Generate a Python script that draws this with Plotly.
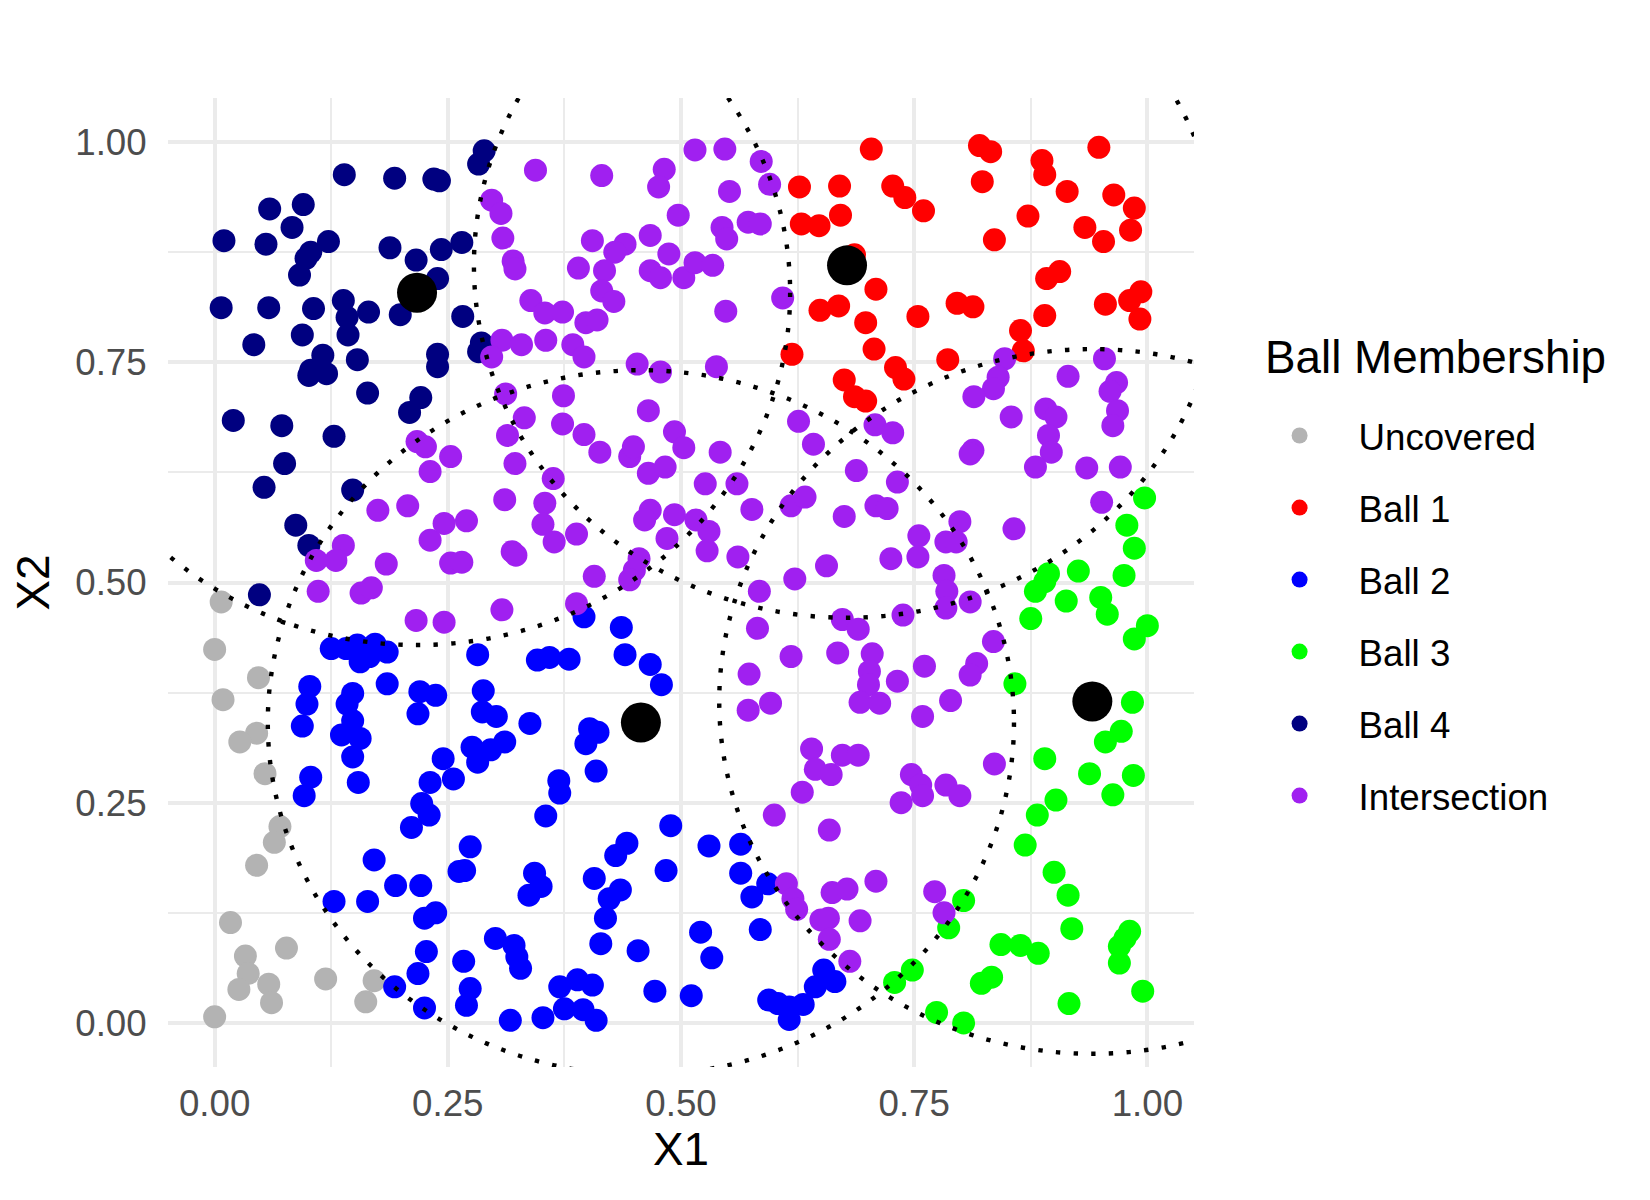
#!/bin/python3

import plotly.graph_objects as go

# Ball centres and shared radius
center_x = [0.678, 0.457, 0.941, 0.217]
center_y = [0.860, 0.341, 0.365, 0.829]
radius = 0.4

# Points by membership, (X1, X2)
uncovered = [
    (0.007, 0.478), (0.000, 0.424), (0.009, 0.367), (0.047, 0.392), (0.045, 0.329),
    (0.027, 0.319), (0.054, 0.283), (0.070, 0.223), (0.064, 0.205), (0.045, 0.179),
    (0.017, 0.114), (0.033, 0.076), (0.036, 0.056), (0.026, 0.038), (0.058, 0.044),
    (0.061, 0.023), (0.077, 0.085), (0.119, 0.050), (0.162, 0.024), (0.171, 0.048),
    (0.000, 0.007),
]

ball_1 = [
    (0.704, 0.992), (0.820, 0.996), (0.832, 0.989), (0.948, 0.994), (0.627, 0.949),
    (0.670, 0.950), (0.727, 0.950), (0.740, 0.937), (0.760, 0.922), (0.823, 0.955),
    (0.887, 0.979), (0.890, 0.963), (0.914, 0.944), (0.964, 0.940), (0.872, 0.916),
    (0.933, 0.903), (0.953, 0.887), (0.986, 0.925), (0.982, 0.900), (0.629, 0.907),
    (0.648, 0.905), (0.671, 0.917), (0.836, 0.889), (0.686, 0.872), (0.709, 0.833),
    (0.649, 0.809), (0.669, 0.814), (0.698, 0.795), (0.707, 0.765), (0.754, 0.802),
    (0.730, 0.744), (0.739, 0.731), (0.675, 0.730), (0.686, 0.711), (0.698, 0.706),
    (0.619, 0.759), (0.796, 0.817), (0.813, 0.813), (0.892, 0.845), (0.906, 0.853),
    (0.890, 0.803), (0.955, 0.816), (0.981, 0.820), (0.993, 0.830), (0.992, 0.799),
    (0.864, 0.786), (0.867, 0.763), (0.786, 0.753),
]

ball_2 = [
    (0.125, 0.425), (0.141, 0.425), (0.153, 0.429), (0.172, 0.430), (0.185, 0.421),
    (0.156, 0.410), (0.166, 0.416), (0.185, 0.385), (0.220, 0.376), (0.218, 0.351),
    (0.102, 0.382), (0.099, 0.362), (0.094, 0.337), (0.148, 0.374), (0.142, 0.362),
    (0.148, 0.343), (0.136, 0.327), (0.156, 0.323), (0.148, 0.302), (0.154, 0.273),
    (0.103, 0.279), (0.096, 0.258), (0.222, 0.249), (0.211, 0.222), (0.171, 0.185),
    (0.194, 0.156), (0.221, 0.156), (0.128, 0.138), (0.164, 0.138), (0.225, 0.119),
    (0.227, 0.081), (0.218, 0.056), (0.193, 0.041), (0.225, 0.017), (0.276, 0.313),
    (0.296, 0.310), (0.311, 0.319), (0.282, 0.296), (0.245, 0.300), (0.256, 0.277),
    (0.231, 0.273), (0.230, 0.236), (0.369, 0.275), (0.370, 0.261), (0.409, 0.286),
    (0.398, 0.317), (0.402, 0.334), (0.411, 0.330), (0.355, 0.235), (0.274, 0.200),
    (0.262, 0.172), (0.268, 0.173), (0.343, 0.170), (0.350, 0.155), (0.337, 0.145),
    (0.407, 0.164), (0.430, 0.190), (0.442, 0.204), (0.435, 0.151), (0.423, 0.141),
    (0.419, 0.119), (0.489, 0.224), (0.484, 0.173), (0.237, 0.125), (0.301, 0.096),
    (0.321, 0.088), (0.324, 0.075), (0.328, 0.062), (0.267, 0.070), (0.274, 0.039),
    (0.270, 0.020), (0.317, 0.003), (0.352, 0.006), (0.370, 0.041), (0.389, 0.049),
    (0.405, 0.043), (0.375, 0.016), (0.395, 0.015), (0.409, 0.003), (0.414, 0.090),
    (0.454, 0.082), (0.472, 0.036), (0.396, 0.461), (0.436, 0.449), (0.440, 0.418),
    (0.467, 0.407), (0.479, 0.384), (0.282, 0.418), (0.346, 0.412), (0.359, 0.415),
    (0.380, 0.413), (0.237, 0.372), (0.288, 0.377), (0.287, 0.353), (0.302, 0.348),
    (0.338, 0.340), (0.530, 0.201), (0.564, 0.203), (0.564, 0.170), (0.593, 0.158),
    (0.576, 0.143), (0.521, 0.103), (0.533, 0.074), (0.585, 0.106), (0.511, 0.031),
    (0.653, 0.060), (0.665, 0.047), (0.644, 0.041), (0.594, 0.026), (0.604, 0.022),
    (0.616, 0.018), (0.616, 0.004), (0.631, 0.021),
]

ball_3 = [
    (0.997, 0.596), (0.978, 0.565), (0.986, 0.539), (0.975, 0.508), (0.926, 0.513),
    (0.894, 0.510), (0.890, 0.501), (0.880, 0.490), (0.913, 0.479), (0.950, 0.483),
    (0.957, 0.464), (0.875, 0.459), (1.000, 0.451), (0.986, 0.436), (0.858, 0.385),
    (0.984, 0.364), (0.972, 0.331), (0.955, 0.319), (0.890, 0.300), (0.938, 0.283),
    (0.985, 0.281), (0.963, 0.259), (0.902, 0.253), (0.882, 0.236), (0.869, 0.202),
    (0.900, 0.171), (0.915, 0.145), (0.803, 0.139), (0.787, 0.108), (0.919, 0.107),
    (0.843, 0.089), (0.864, 0.088), (0.883, 0.079), (0.981, 0.104), (0.976, 0.096),
    (0.970, 0.087), (0.970, 0.068), (0.822, 0.045), (0.833, 0.052), (0.995, 0.036),
    (0.916, 0.022), (0.774, 0.012), (0.803, 0.000), (0.729, 0.046), (0.748, 0.060),
]

ball_4 = [
    (0.139, 0.963), (0.193, 0.959), (0.235, 0.958), (0.241, 0.956), (0.059, 0.924),
    (0.095, 0.929), (0.083, 0.903), (0.010, 0.888), (0.055, 0.884), (0.122, 0.887),
    (0.103, 0.875), (0.098, 0.868), (0.091, 0.849), (0.188, 0.880), (0.216, 0.866),
    (0.007, 0.812), (0.058, 0.812), (0.106, 0.811), (0.138, 0.820), (0.142, 0.801),
    (0.165, 0.807), (0.199, 0.804), (0.143, 0.781), (0.094, 0.781), (0.042, 0.770),
    (0.116, 0.758), (0.103, 0.741), (0.101, 0.735), (0.120, 0.737), (0.153, 0.753),
    (0.164, 0.715), (0.221, 0.710), (0.209, 0.693), (0.020, 0.684), (0.072, 0.678),
    (0.289, 0.990), (0.283, 0.975), (0.265, 0.886), (0.243, 0.878), (0.239, 0.845),
    (0.266, 0.802), (0.286, 0.772), (0.283, 0.762), (0.239, 0.759), (0.239, 0.745),
    (0.128, 0.666), (0.075, 0.635), (0.053, 0.608), (0.148, 0.605), (0.087, 0.565),
    (0.101, 0.542), (0.048, 0.486),
]

intersection = [
    # upper middle
    (0.344, 0.968), (0.415, 0.962), (0.482, 0.969), (0.476, 0.949), (0.497, 0.917),
    (0.297, 0.934), (0.307, 0.919), (0.309, 0.891), (0.320, 0.865), (0.322, 0.856),
    (0.405, 0.888), (0.440, 0.884), (0.429, 0.875), (0.467, 0.894), (0.487, 0.873),
    (0.390, 0.857), (0.418, 0.854), (0.467, 0.854), (0.478, 0.846), (0.503, 0.846),
    (0.415, 0.831), (0.428, 0.819), (0.339, 0.820), (0.354, 0.806), (0.373, 0.807),
    (0.398, 0.795), (0.410, 0.798), (0.308, 0.775), (0.297, 0.756), (0.329, 0.770),
    (0.355, 0.775), (0.384, 0.770), (0.396, 0.756), (0.453, 0.748), (0.478, 0.739),
    (0.312, 0.714), (0.374, 0.712), (0.332, 0.687), (0.465, 0.695), (0.373, 0.680),
    (0.515, 0.991), (0.547, 0.992), (0.586, 0.978), (0.595, 0.952), (0.552, 0.944),
    (0.544, 0.903), (0.549, 0.890), (0.572, 0.909), (0.585, 0.907), (0.515, 0.863),
    (0.534, 0.860), (0.609, 0.823), (0.548, 0.808), (0.538, 0.745),
    # upper right
    (0.847, 0.754), (0.840, 0.733), (0.835, 0.720), (0.814, 0.711), (0.854, 0.688),
    (0.915, 0.734), (0.954, 0.754), (0.967, 0.727), (0.960, 0.717), (0.968, 0.695),
    (0.891, 0.697), (0.902, 0.688), (0.963, 0.678),
    # centre
    (0.626, 0.683), (0.708, 0.679), (0.727, 0.670), (0.493, 0.671), (0.503, 0.653),
    (0.542, 0.648), (0.642, 0.657), (0.688, 0.627), (0.526, 0.612), (0.560, 0.612),
    (0.576, 0.583), (0.618, 0.587), (0.633, 0.597), (0.675, 0.575), (0.709, 0.587),
    (0.721, 0.584), (0.732, 0.614), (0.493, 0.577), (0.516, 0.571), (0.530, 0.558),
    (0.528, 0.536), (0.561, 0.529), (0.755, 0.553), (0.754, 0.529), (0.725, 0.527),
    (0.656, 0.519), (0.622, 0.504), (0.584, 0.490), (0.582, 0.448), (0.673, 0.458),
    (0.690, 0.447), (0.738, 0.463), (0.618, 0.416), (0.668, 0.420), (0.705, 0.419),
    (0.702, 0.399), (0.701, 0.384), (0.732, 0.388), (0.761, 0.405), (0.573, 0.396),
    (0.572, 0.355), (0.596, 0.363), (0.692, 0.364), (0.713, 0.363), (0.759, 0.348),
    # lower centre
    (0.640, 0.311), (0.673, 0.304), (0.690, 0.304), (0.644, 0.288), (0.661, 0.282),
    (0.630, 0.262), (0.600, 0.236), (0.659, 0.219), (0.747, 0.282), (0.757, 0.270),
    (0.759, 0.258), (0.736, 0.250), (0.613, 0.158), (0.620, 0.141), (0.624, 0.129),
    (0.662, 0.148), (0.678, 0.152), (0.709, 0.161), (0.650, 0.117), (0.658, 0.119),
    (0.659, 0.095), (0.692, 0.116), (0.681, 0.070), (0.772, 0.149), (0.782, 0.125),
    (0.836, 0.294), (0.784, 0.270), (0.799, 0.258),
    # right middle
    (0.894, 0.667), (0.897, 0.648), (0.880, 0.631), (0.813, 0.650), (0.810, 0.646),
    (0.935, 0.630), (0.971, 0.631), (0.951, 0.591), (0.857, 0.561), (0.799, 0.569),
    (0.784, 0.546), (0.795, 0.546), (0.782, 0.508), (0.785, 0.490), (0.784, 0.471),
    (0.810, 0.478), (0.835, 0.433), (0.817, 0.408), (0.810, 0.395), (0.789, 0.366),
    # left middle
    (0.217, 0.660), (0.226, 0.654), (0.231, 0.626), (0.175, 0.582), (0.207, 0.587),
    (0.231, 0.548), (0.138, 0.542), (0.130, 0.525), (0.109, 0.525), (0.184, 0.521),
    (0.111, 0.490), (0.157, 0.488), (0.168, 0.494), (0.216, 0.457),
    (0.253, 0.643), (0.314, 0.667), (0.396, 0.668), (0.413, 0.648), (0.445, 0.643),
    (0.449, 0.654), (0.465, 0.624), (0.483, 0.631), (0.322, 0.635), (0.363, 0.618),
    (0.311, 0.594), (0.354, 0.590), (0.352, 0.566), (0.364, 0.546), (0.388, 0.555),
    (0.246, 0.567), (0.270, 0.570), (0.253, 0.522), (0.265, 0.523), (0.319, 0.535),
    (0.323, 0.531), (0.467, 0.582), (0.461, 0.571), (0.485, 0.550), (0.455, 0.527),
    (0.450, 0.514), (0.445, 0.503), (0.407, 0.507), (0.388, 0.476), (0.308, 0.469),
    (0.246, 0.455),
]

group_names = ['Uncovered', 'Ball 1', 'Ball 2', 'Ball 3', 'Ball 4', 'Intersection']
group_points = [uncovered, ball_1, ball_2, ball_3, ball_4, intersection]
group_colors = ['#B3B3B3', '#FF0000', '#0000FF', '#00FF00', '#000080', '#A020F0']

FONT = 'Liberation Sans, Arial, Helvetica, sans-serif'

fig = go.Figure()

# points, one trace per membership group
for name, pts, col in zip(group_names, group_points, group_colors):
    fig.add_trace(go.Scatter(
        x=[p[0] for p in pts],
        y=[p[1] for p in pts],
        mode='markers',
        name=name,
        legendgroup=name,
        marker=dict(color=col, size=23),
    ))

# ball centres
fig.add_trace(go.Scatter(
    x=center_x, y=center_y,
    mode='markers',
    showlegend=False,
    marker=dict(color='black', size=40),
))

# dotted ball boundaries
for cx, cy in zip(center_x, center_y):
    fig.add_shape(
        type='circle', xref='x', yref='y',
        x0=cx - radius, x1=cx + radius, y0=cy - radius, y1=cy + radius,
        line=dict(color='black', width=4.4, dash='4.4px,13.3px'),
        layer='above',
    )

axis_common = dict(
    range=[-0.05, 1.05],
    tick0=0, dtick=0.25, tickformat='.2f',
    showgrid=True, gridcolor='#EBEBEB', gridwidth=3.5,
    minor=dict(dtick=0.125, showgrid=True, gridcolor='#EBEBEB', gridwidth=2.2),
    zeroline=False, showline=False,
    ticks='outside', tickcolor='rgba(0,0,0,0)',
    tickfont=dict(family=FONT, size=36.7, color='#4D4D4D'),
)

# legend title drawn as annotation so the gap above the keys can be set
fig.add_annotation(
    text='Ball Membership', xref='paper', yref='paper',
    x=1.067, y=0.732, xanchor='left', yanchor='middle',
    showarrow=False, font=dict(family=FONT, size=45.8, color='black'),
)

fig.update_layout(
    width=1650, height=1200,
    margin=dict(l=160, r=464, t=90, b=141),
    plot_bgcolor='white', paper_bgcolor='white',
    font=dict(family=FONT, color='black'),
    xaxis=dict(axis_common, ticklen=4,
               title=dict(text='X1', font=dict(family=FONT, size=45.8), standoff=9)),
    yaxis=dict(axis_common, ticklen=13,
               title=dict(text='X2', font=dict(family=FONT, size=45.8), standoff=11)),
    legend=dict(
        font=dict(family=FONT, size=36.7),
        x=1.0454, xanchor='left', y=0.683, yanchor='top',
        itemwidth=108,
        tracegroupgap=21.3,
        bgcolor='rgba(0,0,0,0)',
    ),
    showlegend=True,
)

fig.write_html("out.html")
